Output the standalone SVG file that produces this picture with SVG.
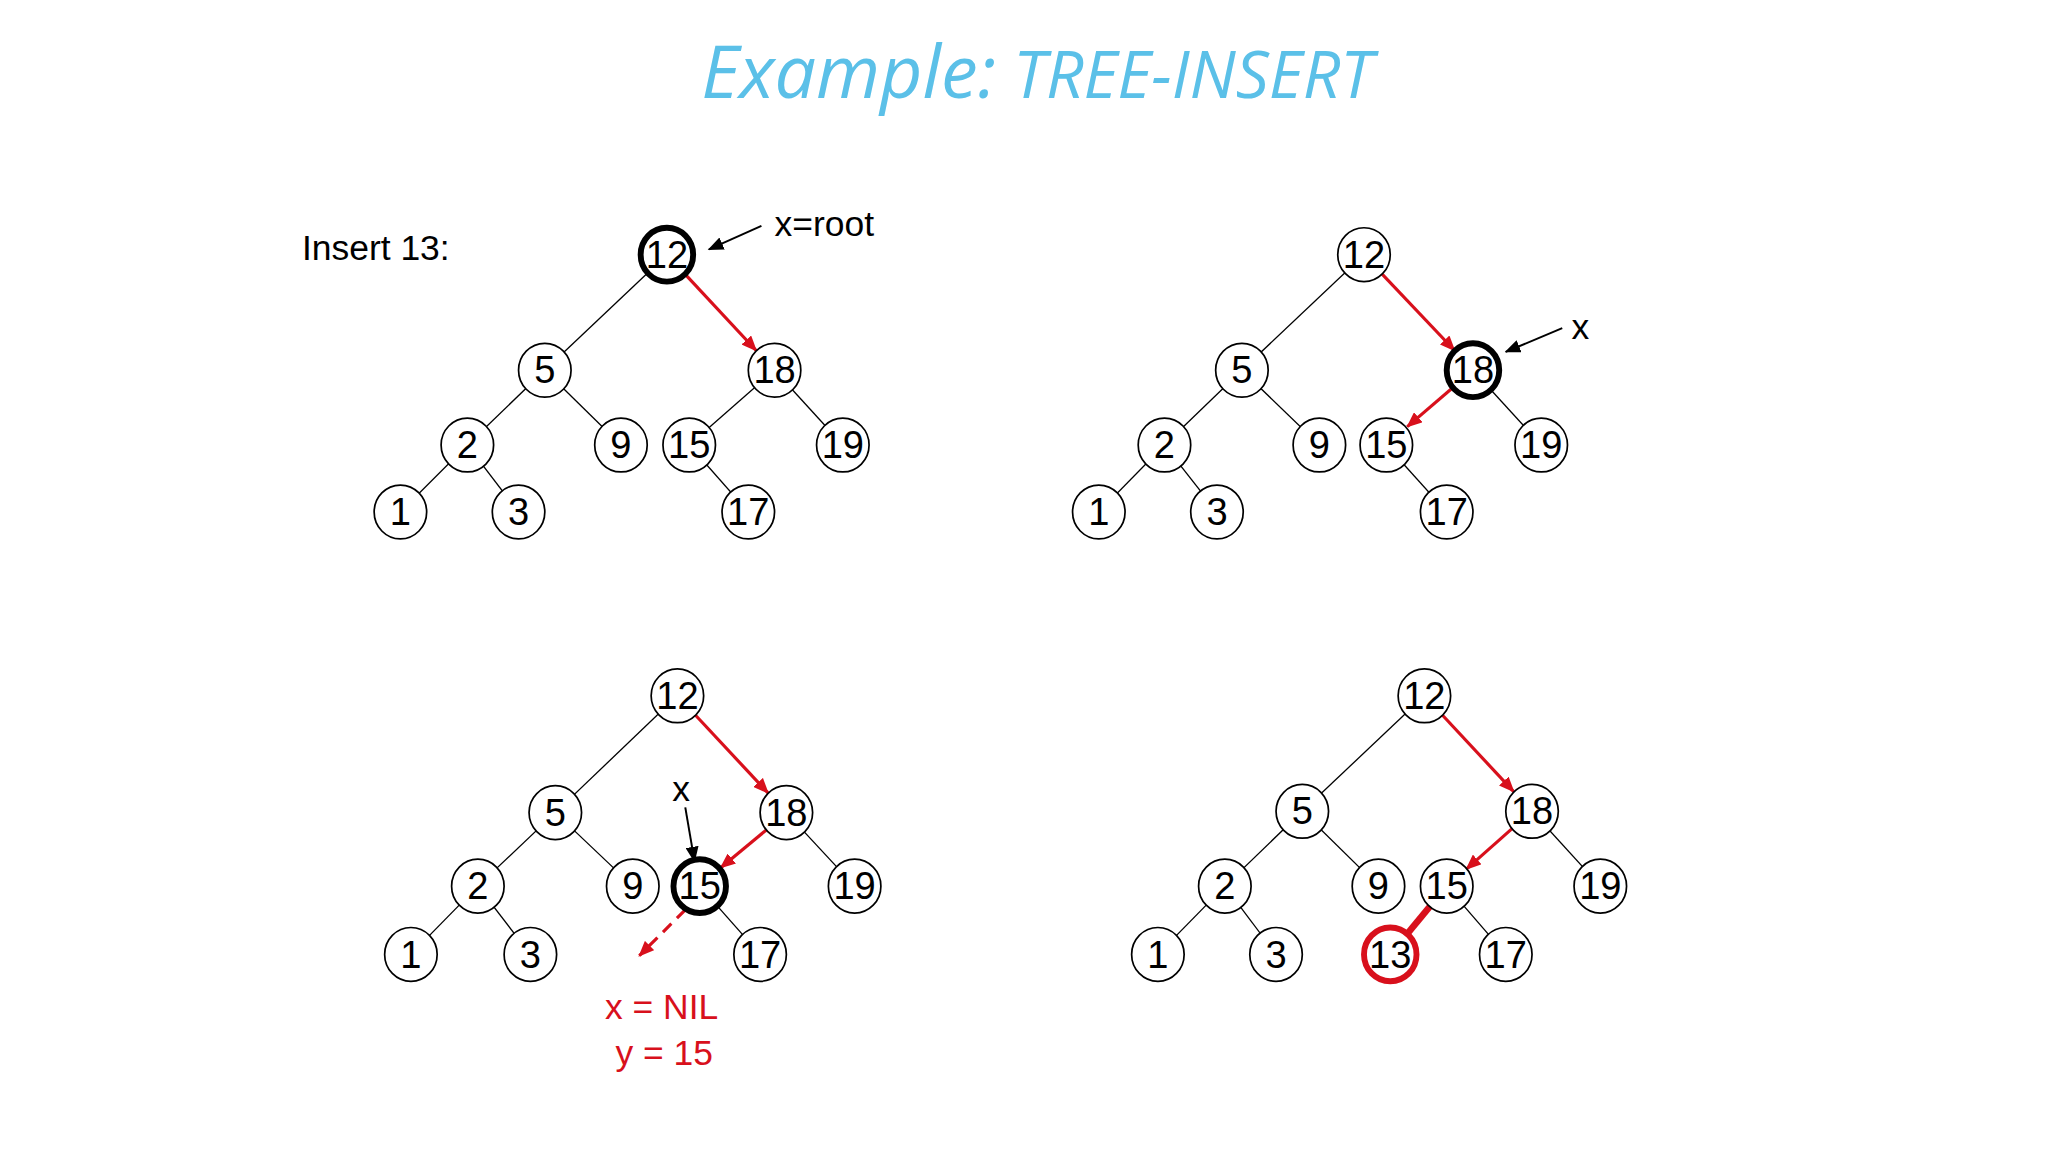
<svg xmlns="http://www.w3.org/2000/svg" width="2048" height="1152" viewBox="0 0 2048 1152">
<style>
.n ellipse{fill:#fff;stroke:#000;stroke-width:1.3}
.n text{font-family:"Liberation Sans",Arial,sans-serif;font-size:29px;text-anchor:middle;fill:#000}
.e line{stroke:#000;stroke-width:1}
.r{stroke:#d8101c;stroke-width:2.4;fill:none}
.t{font-family:"Liberation Sans",Arial,sans-serif}
.hb ellipse{stroke-width:4.5}
.hr ellipse{stroke:#d8101c;stroke-width:4.5}
</style>
<defs>
<marker id="ar" markerUnits="userSpaceOnUse" markerWidth="12" markerHeight="10" refX="11" refY="5" orient="auto"><path d="M0,0 L12,5 L0,10 z" fill="#d8101c"/></marker>
<marker id="ab" markerUnits="userSpaceOnUse" markerWidth="12" markerHeight="10" refX="11" refY="5" orient="auto"><path d="M0,0 L12,5 L0,10 z" fill="#000"/></marker>
</defs>
<rect width="2048" height="1152" fill="#fff"/>
<g transform="scale(1.3128)">
<text x="790" y="75" text-anchor="middle" font-family="'Open Sans',sans-serif" font-style="italic" fill="#5bc0e8"><tspan font-size="56">Example:</tspan><tspan font-size="50"> TREE-INSERT</tspan></text>
<text class="t" x="230" y="198" font-size="27">Insert 13:</text>

<g id="connectors">
<g class="e">
<line x1="508" y1="194" x2="415" y2="282"/><line x1="415" y1="282" x2="356" y2="339"/><line x1="415" y1="282" x2="473" y2="339"/><line x1="356" y1="339" x2="305" y2="390"/><line x1="356" y1="339" x2="395" y2="390"/><line x1="590" y1="282" x2="525" y2="339"/><line x1="590" y1="282" x2="642" y2="339"/><line x1="525" y1="339" x2="570" y2="390"/>
<line x1="1039" y1="194" x2="946" y2="282"/><line x1="946" y1="282" x2="887" y2="339"/><line x1="946" y1="282" x2="1005" y2="339"/><line x1="887" y1="339" x2="837" y2="390"/><line x1="887" y1="339" x2="927" y2="390"/><line x1="1122" y1="282" x2="1174" y2="339"/><line x1="1056" y1="339" x2="1102" y2="390"/>
<line x1="516" y1="530" x2="423" y2="619"/><line x1="423" y1="619" x2="364" y2="675"/><line x1="423" y1="619" x2="482" y2="675"/><line x1="364" y1="675" x2="313" y2="727"/><line x1="364" y1="675" x2="404" y2="727"/><line x1="599" y1="619" x2="651" y2="675"/><line x1="533" y1="675" x2="579" y2="727"/>
<line x1="1085" y1="530" x2="992" y2="618"/><line x1="992" y1="618" x2="933" y2="675"/><line x1="992" y1="618" x2="1050" y2="675"/><line x1="933" y1="675" x2="882" y2="727"/><line x1="933" y1="675" x2="972" y2="727"/><line x1="1167" y1="618" x2="1219" y2="675"/><line x1="1102" y1="675" x2="1147" y2="727"/>
</g>
<line class="r" x1="522" y1="209" x2="576" y2="267" marker-end="url(#ar)"/>
<line class="r" x1="1053" y1="209" x2="1108" y2="267" marker-end="url(#ar)"/>
<line class="r" x1="1107" y1="295" x2="1072" y2="325" marker-end="url(#ar)"/>
<line class="r" x1="530" y1="545" x2="585" y2="604" marker-end="url(#ar)"/>
<line class="r" x1="584" y1="632" x2="549" y2="661" marker-end="url(#ar)"/>
<line class="r" x1="522" y1="693" x2="487" y2="728" stroke-dasharray="9,6" marker-end="url(#ar)"/>
<line class="r" x1="1099" y1="545" x2="1153" y2="603" marker-end="url(#ar)"/>
<line class="r" x1="1152" y1="631" x2="1117" y2="662" marker-end="url(#ar)"/>
<line x1="1102" y1="675" x2="1059" y2="727" stroke="#d8101c" stroke-width="5"/>
<line x1="580" y1="172" x2="540" y2="190" stroke="#000" stroke-width="1.5" marker-end="url(#ab)"/>
<line x1="1190" y1="250" x2="1147" y2="268" stroke="#000" stroke-width="1.5" marker-end="url(#ab)"/>
<line x1="522" y1="615" x2="529" y2="656" stroke="#000" stroke-width="1.5" marker-end="url(#ab)"/>
</g>

<text class="t" x="590" y="180" font-size="27">x=root</text>
<text class="t" x="1197" y="258" font-size="27">x</text>
<text class="t" x="512" y="610" font-size="27">x</text>
<text class="t" x="504" y="776" font-size="27" fill="#d8101c" text-anchor="middle">x = NIL</text>
<text class="t" x="506" y="811" font-size="27" fill="#d8101c" text-anchor="middle">y = 15</text>

<g id="t1-12" class="n hb"><ellipse cx="508" cy="194" rx="20" ry="20.5"/><text x="508" y="204">12</text></g>
<g id="t1-5" class="n"><ellipse cx="415" cy="282" rx="20" ry="20.5"/><text x="415" y="292">5</text></g>
<g id="t1-18" class="n"><ellipse cx="590" cy="282" rx="20" ry="20.5"/><text x="590" y="292">18</text></g>
<g id="t1-2" class="n"><ellipse cx="356" cy="339" rx="20" ry="20.5"/><text x="356" y="349">2</text></g>
<g id="t1-9" class="n"><ellipse cx="473" cy="339" rx="20" ry="20.5"/><text x="473" y="349">9</text></g>
<g id="t1-15" class="n"><ellipse cx="525" cy="339" rx="20" ry="20.5"/><text x="525" y="349">15</text></g>
<g id="t1-19" class="n"><ellipse cx="642" cy="339" rx="20" ry="20.5"/><text x="642" y="349">19</text></g>
<g id="t1-1" class="n"><ellipse cx="305" cy="390" rx="20" ry="20.5"/><text x="305" y="400">1</text></g>
<g id="t1-3" class="n"><ellipse cx="395" cy="390" rx="20" ry="20.5"/><text x="395" y="400">3</text></g>
<g id="t1-17" class="n"><ellipse cx="570" cy="390" rx="20" ry="20.5"/><text x="570" y="400">17</text></g>

<g id="t2-12" class="n"><ellipse cx="1039" cy="194" rx="20" ry="20.5"/><text x="1039" y="204">12</text></g>
<g id="t2-5" class="n"><ellipse cx="946" cy="282" rx="20" ry="20.5"/><text x="946" y="292">5</text></g>
<g id="t2-18" class="n hb"><ellipse cx="1122" cy="282" rx="20" ry="20.5"/><text x="1122" y="292">18</text></g>
<g id="t2-2" class="n"><ellipse cx="887" cy="339" rx="20" ry="20.5"/><text x="887" y="349">2</text></g>
<g id="t2-9" class="n"><ellipse cx="1005" cy="339" rx="20" ry="20.5"/><text x="1005" y="349">9</text></g>
<g id="t2-15" class="n"><ellipse cx="1056" cy="339" rx="20" ry="20.5"/><text x="1056" y="349">15</text></g>
<g id="t2-19" class="n"><ellipse cx="1174" cy="339" rx="20" ry="20.5"/><text x="1174" y="349">19</text></g>
<g id="t2-1" class="n"><ellipse cx="837" cy="390" rx="20" ry="20.5"/><text x="837" y="400">1</text></g>
<g id="t2-3" class="n"><ellipse cx="927" cy="390" rx="20" ry="20.5"/><text x="927" y="400">3</text></g>
<g id="t2-17" class="n"><ellipse cx="1102" cy="390" rx="20" ry="20.5"/><text x="1102" y="400">17</text></g>

<g id="t3-12" class="n"><ellipse cx="516" cy="530" rx="20" ry="20.5"/><text x="516" y="540">12</text></g>
<g id="t3-5" class="n"><ellipse cx="423" cy="619" rx="20" ry="20.5"/><text x="423" y="629">5</text></g>
<g id="t3-18" class="n"><ellipse cx="599" cy="619" rx="20" ry="20.5"/><text x="599" y="629">18</text></g>
<g id="t3-2" class="n"><ellipse cx="364" cy="675" rx="20" ry="20.5"/><text x="364" y="685">2</text></g>
<g id="t3-9" class="n"><ellipse cx="482" cy="675" rx="20" ry="20.5"/><text x="482" y="685">9</text></g>
<g id="t3-15" class="n hb"><ellipse cx="533" cy="675" rx="20" ry="20.5"/><text x="533" y="685">15</text></g>
<g id="t3-19" class="n"><ellipse cx="651" cy="675" rx="20" ry="20.5"/><text x="651" y="685">19</text></g>
<g id="t3-1" class="n"><ellipse cx="313" cy="727" rx="20" ry="20.5"/><text x="313" y="737">1</text></g>
<g id="t3-3" class="n"><ellipse cx="404" cy="727" rx="20" ry="20.5"/><text x="404" y="737">3</text></g>
<g id="t3-17" class="n"><ellipse cx="579" cy="727" rx="20" ry="20.5"/><text x="579" y="737">17</text></g>

<g id="t4-12" class="n"><ellipse cx="1085" cy="530" rx="20" ry="20.5"/><text x="1085" y="540">12</text></g>
<g id="t4-5" class="n"><ellipse cx="992" cy="618" rx="20" ry="20.5"/><text x="992" y="628">5</text></g>
<g id="t4-18" class="n"><ellipse cx="1167" cy="618" rx="20" ry="20.5"/><text x="1167" y="628">18</text></g>
<g id="t4-2" class="n"><ellipse cx="933" cy="675" rx="20" ry="20.5"/><text x="933" y="685">2</text></g>
<g id="t4-9" class="n"><ellipse cx="1050" cy="675" rx="20" ry="20.5"/><text x="1050" y="685">9</text></g>
<g id="t4-15" class="n"><ellipse cx="1102" cy="675" rx="20" ry="20.5"/><text x="1102" y="685">15</text></g>
<g id="t4-19" class="n"><ellipse cx="1219" cy="675" rx="20" ry="20.5"/><text x="1219" y="685">19</text></g>
<g id="t4-1" class="n"><ellipse cx="882" cy="727" rx="20" ry="20.5"/><text x="882" y="737">1</text></g>
<g id="t4-3" class="n"><ellipse cx="972" cy="727" rx="20" ry="20.5"/><text x="972" y="737">3</text></g>
<g id="t4-13" class="n hr"><ellipse cx="1059" cy="727" rx="20" ry="20.5"/><text x="1059" y="737">13</text></g>
<g id="t4-17" class="n"><ellipse cx="1147" cy="727" rx="20" ry="20.5"/><text x="1147" y="737">17</text></g>
</g>
</svg>
